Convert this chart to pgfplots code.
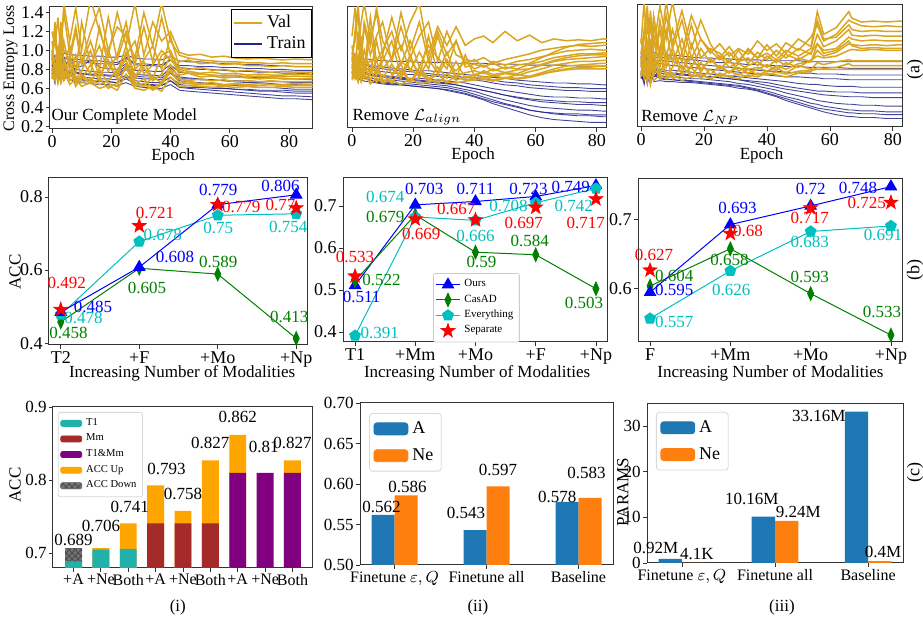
\documentclass[border=0pt]{standalone}
\usepackage{fontspec}
\setmainfont{Liberation Serif}
\usepackage{pgfplots}
\pgfplotsset{compat=1.18}
\usepackage{pgfplotstable}
\usetikzlibrary{patterns}

\definecolor{valc}{HTML}{DAA520}
\definecolor{trainc}{HTML}{23238A}
\definecolor{oursc}{HTML}{0000FF}
\definecolor{casc}{HTML}{008000}
\definecolor{evc}{HTML}{00BFBF}
\definecolor{sepc}{HTML}{FF0000}
\definecolor{tone}{HTML}{20B2AA}
\definecolor{mmc}{HTML}{A52A2A}
\definecolor{tmm}{HTML}{800080}
\definecolor{upc}{HTML}{FFA500}
\definecolor{ca}{HTML}{1F77B4}
\definecolor{cn}{HTML}{FF7F0E}

\newcommand\fs[1]{\fontsize{#1}{#1}\selectfont}

% filled five-point star
\pgfdeclareplotmark{fstar}{%
  \pgfpathmoveto{\pgfpointpolar{90}{\pgfplotmarksize}}%
  \pgfpathlineto{\pgfpointpolar{126}{0.4\pgfplotmarksize}}%
  \pgfpathlineto{\pgfpointpolar{162}{\pgfplotmarksize}}%
  \pgfpathlineto{\pgfpointpolar{198}{0.4\pgfplotmarksize}}%
  \pgfpathlineto{\pgfpointpolar{234}{\pgfplotmarksize}}%
  \pgfpathlineto{\pgfpointpolar{270}{0.4\pgfplotmarksize}}%
  \pgfpathlineto{\pgfpointpolar{306}{\pgfplotmarksize}}%
  \pgfpathlineto{\pgfpointpolar{342}{0.4\pgfplotmarksize}}%
  \pgfpathlineto{\pgfpointpolar{18}{\pgfplotmarksize}}%
  \pgfpathlineto{\pgfpointpolar{54}{0.4\pgfplotmarksize}}%
  \pgfpathclose
  \pgfusepathqfillstroke}

\newcommand\lab[4]{\node[text=#1, font=\fs{8.5}, inner sep=0pt] at (axis cs:#2,#3) {#4};}

\pgfplotsset{
  base/.style={scale only axis, anchor=south west, clip mode=individual,
    axis line style={black!80, line width=0.5pt},
    tick align=outside, major tick length=2pt, tick style={black!80, line width=0.4pt},
    xtick pos=bottom, ytick pos=left,
    every tick label/.append style={inner sep=1pt},
    /pgf/number format/assume math mode=true, legend cell align=left},
  loss/.style={base, ymin=0.17, ymax=1.46, xtick={0,20,40,60,80},
    tick label style={font=\fs{9}}, label style={font=\fs{8.5}}, xlabel={Epoch}},
  trainst/.style={trainc, line width=0.45pt, opacity=0.85, forget plot},
  valst/.style={valc, line width=0.75pt, forget plot},
  modal/.style={base, tick label style={font=\fs{9}}, label style={font=\fs{8.5}},
    xlabel={Increasing Number of Modalities},
    yticklabel style={/pgf/number format/.cd, fixed, fixed zerofill, precision=1}},
  ours/.style={oursc, line width=0.5pt, mark=triangle*, mark size=3.2pt},
  cas/.style={casc, line width=0.5pt, mark=diamond*, mark size=3.3pt, mark options={xscale=0.6}},
  ev/.style={evc, line width=0.5pt, mark=pentagon*, mark size=2.8pt},
  sep/.style={sepc, only marks, mark=fstar, mark size=3.6pt},
}

% loss curves: e = epoch, v = validation, t = training
\pgfplotstableread{
e v1 v2 v3 v4 v5 v6 v7 v8 t1 t2 t3 t4 t5 t6 t7 t8
0 1.20 0.95 0.78 1.10 0.85 0.70 1.00 0.75 1.00 0.95 0.90 0.85 0.80 0.78 0.75 0.72
1 1.05 1.15 0.90 0.80 1.25 0.75 0.85 0.68 0.85 0.80 0.95 0.70 0.90 0.65 0.85 0.80
2 1.35 0.85 1.00 0.95 0.80 0.90 0.72 0.80 0.98 0.96 0.80 0.92 0.75 0.88 0.70 0.76
3 0.95 1.30 0.82 1.20 0.90 0.70 0.95 0.66 0.90 0.85 0.97 0.80 0.95 0.72 0.90 0.68
4 1.50 1.00 1.10 0.85 0.75 0.85 0.70 0.78 0.97 0.92 0.85 0.90 0.78 0.85 0.72 0.75
6 1.10 0.90 0.80 1.05 0.95 0.68 0.88 0.64 0.96 0.90 0.88 0.84 0.95 0.76 0.80 0.70
8 1.45 1.20 0.75 0.80 0.70 0.72 0.66 0.70 0.95 0.88 0.84 0.80 0.76 0.72 0.70 0.66
10 1.00 0.85 1.30 0.90 0.78 0.66 0.74 0.62 0.95 0.88 0.83 0.79 0.75 0.72 0.69 0.66
13 1.55 1.10 0.85 0.75 1.00 0.70 0.68 0.66 0.94 0.87 0.90 0.78 0.74 0.71 0.68 0.65
16 1.20 0.80 1.05 1.25 0.72 0.64 0.80 0.60 0.94 0.86 0.82 0.77 0.74 0.70 0.68 0.64
19 0.95 1.35 0.78 0.85 0.90 0.68 0.65 0.63 0.93 0.86 0.81 0.77 0.73 0.70 0.67 0.64
22 1.40 0.90 0.95 0.72 0.70 0.80 0.62 0.58 0.93 0.85 0.80 0.76 0.72 0.69 0.66 0.63
25 1.05 1.20 1.30 0.95 0.98 0.90 0.85 0.75 0.95 0.92 0.86 0.84 0.80 0.74 0.70 0.66
28 1.50 0.85 0.80 1.10 0.70 0.66 0.64 0.60 0.92 0.85 0.79 0.75 0.71 0.68 0.65 0.62
31 0.95 1.25 0.90 0.75 0.82 0.62 0.70 0.58 0.91 0.84 0.79 0.74 0.70 0.67 0.64 0.61
34 1.30 0.88 1.05 0.85 0.68 0.72 0.60 0.62 0.91 0.84 0.78 0.74 0.70 0.66 0.63 0.60
37 1.10 1.35 0.80 1.00 0.75 0.66 0.66 0.57 0.90 0.83 0.78 0.73 0.69 0.66 0.63 0.60
40 1.20 0.95 1.15 0.90 0.95 0.85 0.80 0.72 0.94 0.90 0.85 0.82 0.76 0.72 0.68 0.64
43 0.98 0.88 0.82 0.80 0.74 0.70 0.66 0.62 0.89 0.82 0.77 0.72 0.68 0.64 0.61 0.58
46 0.95 0.90 0.80 0.78 0.76 0.68 0.67 0.63 0.88 0.81 0.76 0.71 0.67 0.63 0.60 0.57
50 0.96 0.86 0.82 0.76 0.72 0.70 0.65 0.62 0.88 0.80 0.75 0.70 0.66 0.62 0.59 0.56
54 0.93 0.87 0.79 0.77 0.73 0.68 0.66 0.61 0.87 0.80 0.74 0.69 0.65 0.61 0.58 0.55
58 0.94 0.85 0.80 0.75 0.71 0.69 0.64 0.62 0.86 0.79 0.73 0.68 0.64 0.60 0.57 0.54
62 0.92 0.86 0.78 0.76 0.72 0.67 0.65 0.61 0.86 0.78 0.73 0.67 0.63 0.59 0.56 0.53
66 0.91 0.84 0.79 0.74 0.71 0.68 0.64 0.62 0.85 0.78 0.72 0.66 0.62 0.58 0.55 0.52
70 0.92 0.84 0.78 0.75 0.70 0.67 0.65 0.61 0.85 0.77 0.71 0.66 0.61 0.57 0.54 0.51
74 0.91 0.83 0.77 0.74 0.71 0.68 0.64 0.61 0.84 0.77 0.71 0.65 0.61 0.57 0.53 0.50
78 0.90 0.84 0.78 0.74 0.70 0.67 0.64 0.62 0.84 0.76 0.70 0.64 0.60 0.56 0.52 0.49
82 0.91 0.83 0.77 0.75 0.70 0.67 0.65 0.61 0.83 0.76 0.70 0.64 0.59 0.55 0.52 0.49
88 0.90 0.83 0.77 0.74 0.70 0.67 0.64 0.61 0.83 0.75 0.69 0.63 0.59 0.55 0.51 0.48
}\lossA
\pgfplotstableread{
e v9 v10 v11 t9 t10 t11
0 0.90 0.80 0.70 0.92 0.82 0.76
1 1.30 0.70 0.85 0.75 0.92 0.70
2 0.85 1.05 0.65 0.96 0.72 0.85
3 1.10 0.75 0.78 0.78 0.88 0.66
4 1.40 0.90 0.68 0.93 0.80 0.80
6 0.95 0.72 0.80 0.90 0.78 0.74
8 1.25 0.95 0.62 0.91 0.77 0.70
10 0.88 0.70 0.72 0.90 0.76 0.69
13 1.20 0.85 0.65 0.89 0.75 0.68
16 1.45 0.68 0.70 0.89 0.75 0.67
19 1.00 1.00 0.60 0.88 0.74 0.67
22 1.25 0.75 0.66 0.87 0.74 0.66
25 1.15 1.05 0.82 0.93 0.82 0.72
28 0.92 0.72 0.62 0.86 0.73 0.65
31 1.40 0.88 0.65 0.86 0.72 0.64
34 1.05 0.70 0.58 0.85 0.72 0.64
37 1.50 0.95 0.64 0.85 0.71 0.63
40 1.10 1.00 0.78 0.90 0.78 0.68
43 0.95 0.78 0.66 0.84 0.70 0.62
46 0.92 0.76 0.65 0.84 0.70 0.61
50 0.90 0.75 0.64 0.83 0.69 0.61
54 0.89 0.74 0.64 0.83 0.69 0.60
58 0.88 0.73 0.63 0.82 0.68 0.60
62 0.88 0.74 0.64 0.82 0.68 0.59
66 0.87 0.72 0.63 0.81 0.68 0.59
70 0.87 0.73 0.63 0.81 0.67 0.58
74 0.86 0.72 0.64 0.80 0.67 0.58
78 0.87 0.72 0.63 0.80 0.67 0.58
82 0.86 0.73 0.63 0.79 0.66 0.57
88 0.86 0.72 0.63 0.79 0.66 0.57
}\lossAx

\pgfplotstableread{
e v1 v2 v3 v4 v5 v6 v7 v8 t1 t2 t3 t4 t5 t6 t7 t8
0 1.15 0.95 0.80 1.05 0.75 0.90 0.70 0.85 0.98 0.92 0.88 0.80 0.85 0.75 0.78 0.72
1 1.45 1.10 0.95 0.78 0.88 0.72 0.82 0.70 0.95 0.88 0.82 0.78 0.80 0.74 0.72 0.70
2 1.00 1.40 0.75 1.20 0.70 0.95 0.68 0.78 0.93 0.87 0.84 0.76 0.78 0.72 0.74 0.69
3 1.30 0.90 1.15 0.85 1.00 0.70 0.90 0.66 0.92 0.86 0.80 0.77 0.75 0.73 0.70 0.68
4 1.50 1.25 0.80 1.00 0.78 0.85 0.72 0.75 0.91 0.85 0.81 0.75 0.76 0.71 0.71 0.67
6 1.10 0.95 1.35 0.75 0.90 0.68 0.80 0.64 0.90 0.84 0.79 0.74 0.73 0.70 0.68 0.66
8 1.40 1.15 0.88 1.10 0.72 0.80 0.66 0.70 0.89 0.83 0.78 0.74 0.72 0.69 0.67 0.65
10 0.95 1.30 1.00 0.80 0.95 0.70 0.74 0.65 0.89 0.82 0.77 0.73 0.71 0.68 0.66 0.64
13 1.35 0.88 1.20 0.92 0.74 0.85 0.65 0.68 0.88 0.81 0.76 0.72 0.70 0.68 0.65 0.63
16 1.00 1.25 0.85 1.05 0.88 0.70 0.78 0.63 0.88 0.80 0.75 0.71 0.69 0.67 0.64 0.63
19 1.30 0.92 1.10 0.78 0.80 0.90 0.66 0.70 0.88 0.79 0.74 0.70 0.68 0.66 0.64 0.62
22 1.50 1.15 0.82 0.98 0.72 0.75 0.82 0.64 0.87 0.78 0.74 0.70 0.67 0.65 0.63 0.61
25 0.95 1.30 1.05 0.80 0.90 0.68 0.70 0.66 0.87 0.78 0.73 0.69 0.66 0.64 0.62 0.60
28 1.25 0.88 0.92 1.15 0.76 0.82 0.64 0.69 0.87 0.77 0.72 0.68 0.65 0.63 0.61 0.59
31 1.05 1.20 0.80 0.85 0.98 0.70 0.75 0.66 0.87 0.76 0.71 0.67 0.64 0.62 0.60 0.57
34 1.25 0.95 1.10 0.78 0.72 0.88 0.68 0.65 0.86 0.75 0.70 0.66 0.63 0.60 0.58 0.55
37 1.05 0.90 0.82 0.88 0.76 0.70 0.72 0.67 0.86 0.74 0.69 0.65 0.61 0.58 0.56 0.53
40 1.12 0.88 0.85 0.80 0.78 0.74 0.71 0.68 0.86 0.73 0.68 0.63 0.59 0.56 0.53 0.50
43 1.15 0.92 0.82 0.84 0.75 0.76 0.70 0.69 0.86 0.72 0.67 0.61 0.57 0.53 0.50 0.47
46 1.08 0.86 0.88 0.78 0.80 0.72 0.73 0.67 0.85 0.71 0.65 0.59 0.55 0.50 0.47 0.43
50 1.20 0.90 0.84 0.82 0.76 0.75 0.70 0.70 0.85 0.70 0.63 0.57 0.52 0.47 0.43 0.39
54 1.10 0.93 0.88 0.80 0.79 0.73 0.74 0.69 0.85 0.68 0.62 0.55 0.49 0.44 0.40 0.35
58 1.16 0.96 0.90 0.85 0.80 0.77 0.72 0.71 0.84 0.67 0.60 0.53 0.47 0.41 0.36 0.31
62 1.08 1.00 0.93 0.88 0.84 0.80 0.76 0.74 0.84 0.66 0.59 0.51 0.45 0.39 0.34 0.28
66 1.12 1.02 0.96 0.92 0.88 0.84 0.80 0.78 0.84 0.65 0.58 0.50 0.44 0.38 0.32 0.26
70 1.10 1.04 0.99 0.94 0.90 0.86 0.83 0.80 0.84 0.65 0.57 0.50 0.43 0.37 0.31 0.25
74 1.11 1.05 1.00 0.96 0.91 0.88 0.84 0.82 0.83 0.64 0.57 0.49 0.42 0.36 0.30 0.24
78 1.10 1.04 1.01 0.96 0.92 0.88 0.85 0.82 0.83 0.64 0.56 0.49 0.42 0.36 0.30 0.23
82 1.12 1.05 1.00 0.97 0.93 0.89 0.86 0.83 0.83 0.63 0.56 0.48 0.41 0.35 0.29 0.23
85 1.11 1.05 1.01 0.97 0.93 0.89 0.86 0.83 0.83 0.63 0.56 0.48 0.41 0.35 0.29 0.22
}\lossB
\pgfplotstableread{
e v9 v10 v11 t9 t10 t11
0 0.90 0.75 0.68 0.90 0.82 0.74
1 1.20 0.90 0.75 0.86 0.78 0.70
2 1.50 0.70 0.66 0.88 0.80 0.72
3 0.95 1.05 0.80 0.84 0.76 0.69
4 1.30 0.72 0.70 0.85 0.77 0.70
6 1.05 1.20 0.74 0.82 0.74 0.68
8 1.45 0.75 0.90 0.81 0.73 0.66
10 1.10 0.88 0.66 0.80 0.72 0.65
13 0.90 1.10 0.72 0.79 0.71 0.64
16 1.40 0.72 0.85 0.78 0.70 0.63
19 1.00 0.95 0.65 0.77 0.69 0.62
22 1.30 0.70 0.78 0.76 0.68 0.61
25 0.88 1.15 0.68 0.75 0.67 0.60
28 1.20 0.74 0.74 0.74 0.66 0.59
31 0.95 0.90 0.66 0.73 0.65 0.58
34 1.10 0.70 0.72 0.72 0.63 0.56
37 0.85 0.95 0.68 0.71 0.61 0.54
40 0.90 0.72 0.70 0.70 0.59 0.51
43 0.82 0.78 0.72 0.69 0.57 0.48
46 0.86 0.74 0.68 0.68 0.55 0.45
50 0.80 0.76 0.71 0.66 0.52 0.42
54 0.84 0.75 0.70 0.65 0.50 0.39
58 0.86 0.80 0.72 0.63 0.48 0.36
62 0.92 0.85 0.75 0.62 0.47 0.34
66 0.98 0.89 0.77 0.61 0.46 0.33
70 1.03 0.92 0.79 0.60 0.45 0.32
74 1.06 0.94 0.80 0.60 0.45 0.32
78 1.07 0.95 0.80 0.59 0.44 0.31
82 1.08 0.95 0.80 0.59 0.44 0.31
85 1.08 0.95 0.80 0.59 0.44 0.31
}\lossBx

\pgfplotstableread{
e v1 v2 v3 v4 v5 v6 v7 v8 t1 t2 t3 t4 t5 t6 t7 t8
0 1.05 0.95 1.10 0.80 0.85 0.70 0.90 0.75 0.95 0.90 0.85 0.80 0.75 0.72 0.70 0.68
1 1.50 1.20 0.85 1.00 0.75 0.90 0.68 0.80 0.70 0.95 0.65 0.90 0.62 0.85 0.66 0.80
2 0.90 1.45 1.25 0.78 1.05 0.65 0.85 0.70 0.98 0.75 0.92 0.68 0.88 0.64 0.82 0.62
3 1.40 0.85 1.00 1.30 0.70 0.95 0.62 0.88 0.72 0.93 0.70 0.86 0.66 0.80 0.63 0.76
4 1.00 1.35 0.80 0.90 1.15 0.72 0.80 0.66 0.96 0.80 0.88 0.75 0.82 0.70 0.74 0.65
6 1.45 0.95 1.30 0.80 0.75 1.00 0.70 0.72 0.94 0.88 0.84 0.78 0.74 0.71 0.68 0.66
8 1.10 1.50 0.90 1.20 0.85 0.70 0.95 0.68 0.93 0.87 0.83 0.77 0.73 0.70 0.67 0.65
10 1.50 1.05 1.20 0.85 1.00 0.80 0.68 0.74 0.93 0.86 0.82 0.77 0.73 0.70 0.67 0.65
13 0.95 1.40 0.85 1.10 0.78 0.95 0.72 0.66 0.92 0.85 0.81 0.76 0.72 0.69 0.66 0.64
16 1.35 1.00 1.25 0.80 0.92 0.70 0.80 0.70 0.91 0.84 0.80 0.75 0.71 0.68 0.66 0.64
19 1.10 1.30 0.90 1.00 0.75 0.85 0.68 0.72 0.90 0.83 0.79 0.74 0.71 0.68 0.65 0.63
22 0.95 1.05 1.00 0.85 0.90 0.72 0.78 0.68 0.90 0.82 0.78 0.73 0.70 0.67 0.64 0.62
25 1.05 0.90 0.95 0.92 0.78 0.82 0.70 0.74 0.89 0.81 0.77 0.72 0.69 0.66 0.63 0.61
28 0.92 1.02 0.85 0.80 0.88 0.75 0.76 0.70 0.89 0.80 0.76 0.71 0.68 0.65 0.62 0.60
31 1.00 0.88 0.98 0.86 0.76 0.80 0.72 0.73 0.88 0.79 0.75 0.70 0.67 0.63 0.61 0.58
34 0.94 0.98 0.84 0.90 0.82 0.74 0.78 0.70 0.88 0.78 0.74 0.69 0.65 0.62 0.59 0.57
37 1.08 0.90 0.96 0.82 0.86 0.78 0.72 0.74 0.88 0.77 0.73 0.68 0.63 0.60 0.57 0.55
40 0.98 1.04 0.88 0.92 0.80 0.83 0.76 0.72 0.87 0.76 0.72 0.67 0.61 0.58 0.55 0.52
43 1.05 0.92 0.98 0.85 0.88 0.77 0.80 0.75 0.87 0.76 0.71 0.66 0.59 0.56 0.52 0.49
46 0.95 1.06 0.90 0.94 0.82 0.85 0.74 0.73 0.87 0.75 0.70 0.65 0.57 0.53 0.49 0.45
50 1.10 0.98 1.00 0.88 0.90 0.80 0.82 0.76 0.87 0.74 0.70 0.63 0.55 0.50 0.46 0.41
54 1.02 1.12 0.94 0.96 0.86 0.88 0.78 0.77 0.86 0.74 0.69 0.62 0.53 0.47 0.42 0.37
56 1.39 1.25 1.15 1.05 0.98 0.92 0.85 0.78 0.86 0.73 0.69 0.62 0.52 0.45 0.41 0.35
58 1.15 1.08 1.02 0.98 0.92 0.90 0.83 0.78 0.86 0.73 0.68 0.61 0.51 0.44 0.39 0.33
62 1.22 1.15 1.08 1.00 0.96 0.92 0.86 0.78 0.86 0.73 0.68 0.60 0.50 0.42 0.37 0.30
66 1.39 1.30 1.20 1.12 1.05 0.98 0.88 0.78 0.86 0.72 0.67 0.60 0.49 0.41 0.35 0.28
67 1.32 1.28 1.14 1.10 1.04 0.99 0.87 0.78 0.86 0.72 0.67 0.60 0.49 0.41 0.35 0.28
70 1.28 1.24 1.13 1.08 1.03 0.98 0.87 0.78 0.86 0.72 0.67 0.59 0.49 0.40 0.34 0.27
74 1.29 1.23 1.14 1.09 1.04 0.99 0.87 0.78 0.86 0.72 0.67 0.59 0.48 0.40 0.34 0.27
78 1.28 1.24 1.13 1.08 1.03 0.98 0.87 0.78 0.86 0.72 0.67 0.59 0.48 0.39 0.33 0.26
82 1.29 1.23 1.13 1.08 1.04 0.98 0.87 0.78 0.86 0.72 0.67 0.59 0.48 0.39 0.33 0.26
85 1.28 1.23 1.13 1.08 1.03 0.98 0.87 0.78 0.86 0.72 0.67 0.59 0.48 0.39 0.33 0.26
}\lossC
\pgfplotstableread{
e v9 v10 v11 t9 t10 t11
0 0.85 0.75 0.70 0.92 0.82 0.74
1 1.10 0.85 0.78 0.68 0.90 0.64
2 1.40 0.70 0.66 0.96 0.66 0.85
3 0.95 1.10 0.74 0.70 0.88 0.62
4 1.25 0.78 0.95 0.90 0.70 0.78
6 0.90 1.20 0.68 0.91 0.76 0.69
8 1.35 0.80 0.75 0.90 0.75 0.68
10 1.00 0.95 0.70 0.90 0.74 0.67
13 1.30 0.72 0.82 0.89 0.73 0.66
16 0.90 1.05 0.70 0.88 0.72 0.65
19 1.10 0.78 0.74 0.87 0.71 0.64
22 0.98 0.88 0.68 0.86 0.70 0.63
25 0.88 0.80 0.72 0.85 0.69 0.62
28 0.96 0.74 0.70 0.85 0.68 0.61
31 0.85 0.84 0.68 0.84 0.67 0.60
34 1.00 0.78 0.72 0.83 0.66 0.58
37 0.90 0.80 0.70 0.83 0.65 0.56
40 0.95 0.76 0.74 0.82 0.64 0.53
43 0.88 0.82 0.72 0.82 0.62 0.50
46 0.98 0.78 0.70 0.81 0.60 0.47
50 0.92 0.84 0.74 0.81 0.58 0.43
54 1.00 0.86 0.76 0.80 0.56 0.39
56 1.30 1.05 0.80 0.80 0.55 0.37
58 1.10 0.95 0.79 0.80 0.55 0.36
62 1.12 0.98 0.80 0.80 0.54 0.34
66 1.25 1.08 0.84 0.79 0.54 0.32
67 1.20 1.03 0.82 0.79 0.54 0.32
70 1.18 1.00 0.82 0.79 0.53 0.31
74 1.19 1.01 0.82 0.79 0.53 0.31
78 1.18 1.00 0.82 0.79 0.53 0.30
82 1.18 1.00 0.82 0.79 0.53 0.30
85 1.18 1.00 0.82 0.79 0.53 0.30
}\lossCx

\begin{document}
\begin{tikzpicture}
\useasboundingbox (0pt,0pt) rectangle (461.5pt,-309.5pt);

% ---------------- row (a) ----------------
\begin{axis}[loss, at={(25pt,-64.5pt)}, width=131.5pt, height=61pt,
  xmin=-0.68, xmax=88.1,
  ytick={0.2,0.4,0.6,0.8,1.0,1.2,1.4},
  yticklabel style={/pgf/number format/.cd, fixed, fixed zerofill, precision=1},
  ylabel={Cross Entropy Loss},
  xlabel style={at={(rel axis cs:0.468,-0.225)}, anchor=center},
  ylabel style={at={(rel axis cs:-0.15,0.5)}, anchor=center, font=\fs{8}},
  legend style={at={(rel axis cs:0.996,0.984)}, anchor=north east, font=\fs{9},
    draw=black, inner sep=1pt, row sep=-1pt},
  legend image code/.code={\draw[#1] (0pt,0pt) -- (14pt,0pt);}]
\pgfplotsinvokeforeach{1,...,8}{\addplot[trainst] table[x=e, y=t#1] {\lossA};}
\pgfplotsinvokeforeach{9,10,11}{\addplot[trainst] table[x=e, y=t#1] {\lossAx};}
\pgfplotsinvokeforeach{1,...,8}{\addplot[valst] table[x=e, y=v#1] {\lossA};}
\pgfplotsinvokeforeach{9,10,11}{\addplot[valst] table[x=e, y=v#1] {\lossAx};}
\addlegendimage{valc, line width=1pt}\addlegendentry{Val}
\addlegendimage{trainc, line width=1pt}\addlegendentry{Train}
\node[anchor=west, font=\fs{8.5}, inner sep=0pt] at (rel axis cs:0.005,0.1) {Our Complete Model};
\end{axis}

\begin{axis}[loss, at={(173.5pt,-64pt)}, width=130pt, height=60.5pt,
  xmin=-1.63, xmax=83.3, ytick=\empty,
  xlabel style={at={(rel axis cs:0.485,-0.23)}, anchor=center}]
\pgfplotsinvokeforeach{1,...,8}{\addplot[trainst] table[x=e, y=t#1] {\lossB};}
\pgfplotsinvokeforeach{9,10,11}{\addplot[trainst] table[x=e, y=t#1] {\lossBx};}
\pgfplotsinvokeforeach{1,...,8}{\addplot[valst] table[x=e, y=v#1] {\lossB};}
\pgfplotsinvokeforeach{9,10,11}{\addplot[valst] table[x=e, y=v#1] {\lossBx};}
\node[anchor=west, font=\fs{8.5}, inner sep=0pt] at (rel axis cs:0.02,0.09) {Remove $\mathcal{L}_{align}$};
\end{axis}

\begin{axis}[loss, at={(318.5pt,-63.5pt)}, width=132.5pt, height=61pt,
  xmin=-1.27, xmax=82.9, ytick=\empty,
  xlabel style={at={(rel axis cs:0.47,-0.235)}, anchor=center}]
\pgfplotsinvokeforeach{1,...,8}{\addplot[trainst] table[x=e, y=t#1] {\lossC};}
\pgfplotsinvokeforeach{9,10,11}{\addplot[trainst] table[x=e, y=t#1] {\lossCx};}
\pgfplotsinvokeforeach{1,...,8}{\addplot[valst] table[x=e, y=v#1] {\lossC};}
\pgfplotsinvokeforeach{9,10,11}{\addplot[valst] table[x=e, y=v#1] {\lossCx};}
\node[anchor=west, font=\fs{8.5}, inner sep=0pt] at (rel axis cs:0.015,0.08) {Remove $\mathcal{L}_{NP}$};
\end{axis}

% ---------------- row (b) ----------------
\begin{axis}[modal, at={(24.5pt,-172.5pt)}, width=129.5pt, height=83.5pt,
  xmin=-0.15, xmax=3.15, ymin=0.395, ymax=0.852,
  xtick={0,1,2,3}, xticklabels={T2,+F,+Mo,+Np}, ytick={0.4,0.6,0.8},
  ylabel={ACC},
  xlabel style={at={(rel axis cs:0.514,-0.17)}, anchor=center},
  ylabel style={at={(rel axis cs:-0.131,0.437)}, anchor=center}]
\addplot[cas] coordinates {(0,0.458) (1,0.605) (2,0.589) (3,0.413)};
\addplot[ev] coordinates {(0,0.478) (1,0.678) (2,0.750) (3,0.754)};
\addplot[ours] coordinates {(0,0.485) (1,0.608) (2,0.779) (3,0.806)};
\addplot[sep] coordinates {(0,0.492) (1,0.721) (2,0.779) (3,0.770)};
\lab{sepc}{0.077}{0.564}{0.492}
\lab{oursc}{0.41}{0.499}{0.485}
\lab{evc}{0.29}{0.468}{0.478}
\lab{casc}{0.10}{0.427}{0.458}
\lab{sepc}{1.20}{0.756}{0.721}
\lab{evc}{1.30}{0.696}{0.678}
\lab{oursc}{1.456}{0.636}{0.608}
\lab{casc}{1.10}{0.551}{0.605}
\lab{oursc}{2.005}{0.819}{0.779}
\lab{sepc}{2.30}{0.773}{0.779}
\lab{evc}{2.005}{0.715}{0.75}
\lab{casc}{2.005}{0.622}{0.589}
\lab{oursc}{2.80}{0.830}{0.806}
\lab{sepc}{2.80}{0.778}{0.77}
\lab{evc}{2.90}{0.718}{0.754}
\lab{casc}{2.91}{0.471}{0.413}
\end{axis}

\begin{axis}[modal, at={(171.5pt,-171pt)}, width=132.5pt, height=82pt,
  xmin=-0.2, xmax=4.2, ymin=0.376, ymax=0.767,
  xtick={0,1,2,3,4}, xticklabels={T1,+Mm,+Mo,+F,+Np}, ytick={0.4,0.5,0.6,0.7},
  xlabel style={at={(rel axis cs:0.506,-0.19)}, anchor=center},
  legend style={at={(rel axis cs:0.34,0.42)}, anchor=north west, font=\fs{5.5},
    draw=black!20, rounded corners=1pt, inner sep=1pt, row sep=-1.5pt},
  legend image code/.code={\draw[mark repeat=2, mark phase=2, #1] plot coordinates {(0pt,0pt) (6pt,0pt) (12pt,0pt)};}]
\addplot[ours] coordinates {(0,0.511) (1,0.703) (2,0.711) (3,0.723) (4,0.749)};
\addlegendentry{Ours}
\addplot[cas] coordinates {(0,0.522) (1,0.679) (2,0.590) (3,0.584) (4,0.503)};
\addlegendentry{CasAD}
\addplot[ev] coordinates {(0,0.391) (1,0.674) (2,0.666) (3,0.708) (4,0.742)};
\addlegendentry{Everything}
\addplot[sep] coordinates {(0,0.533) (1,0.669) (2,0.667) (3,0.697) (4,0.717)};
\addlegendentry{Separate}
\lab{sepc}{0}{0.578}{0.533}
\lab{casc}{0.44}{0.525}{0.522}
\lab{oursc}{0.11}{0.484}{0.511}
\lab{evc}{0.41}{0.398}{0.391}
\lab{evc}{0.5}{0.722}{0.674}
\lab{oursc}{1.15}{0.741}{0.703}
\lab{casc}{0.5}{0.674}{0.679}
\lab{sepc}{1.1}{0.633}{0.669}
\lab{oursc}{2.0}{0.741}{0.711}
\lab{sepc}{1.68}{0.693}{0.667}
\lab{evc}{2.0}{0.628}{0.666}
\lab{casc}{2.1}{0.566}{0.59}
\lab{oursc}{2.88}{0.741}{0.723}
\lab{evc}{2.55}{0.700}{0.708}
\lab{sepc}{2.8}{0.659}{0.697}
\lab{casc}{2.9}{0.616}{0.584}
\lab{oursc}{3.58}{0.746}{0.749}
\lab{evc}{3.63}{0.700}{0.742}
\lab{sepc}{3.83}{0.659}{0.717}
\lab{casc}{3.8}{0.470}{0.503}
\end{axis}

\begin{axis}[modal, at={(319pt,-171pt)}, width=132.5pt, height=81.5pt,
  xmin=-0.15, xmax=3.15, ymin=0.523, ymax=0.759,
  xtick={0,1,2,3}, xticklabels={F,+Mm,+Mo,+Np}, ytick={0.6,0.7},
  xlabel style={at={(rel axis cs:0.50,-0.19)}, anchor=center}]
\addplot[ev] coordinates {(0,0.557) (1,0.626) (2,0.683) (3,0.691)};
\addplot[cas] coordinates {(0,0.604) (1,0.658) (2,0.593) (3,0.533)};
\addplot[ours] coordinates {(0,0.595) (1,0.693) (2,0.720) (3,0.748)};
\addplot[sep] coordinates {(0,0.627) (1,0.680) (2,0.717) (3,0.725)};
\lab{sepc}{0.05}{0.649}{0.627}
\lab{casc}{0.3}{0.619}{0.604}
\lab{oursc}{0.3}{0.599}{0.595}
\lab{evc}{0.3}{0.552}{0.557}
\lab{oursc}{1.09}{0.717}{0.693}
\lab{sepc}{1.22}{0.684}{0.68}
\lab{casc}{0.99}{0.642}{0.658}
\lab{evc}{1.01}{0.599}{0.626}
\lab{oursc}{2.0}{0.745}{0.72}
\lab{sepc}{1.99}{0.703}{0.717}
\lab{evc}{1.99}{0.668}{0.683}
\lab{casc}{1.99}{0.617}{0.593}
\lab{oursc}{2.59}{0.746}{0.748}
\lab{sepc}{2.7}{0.725}{0.725}
\lab{evc}{2.9}{0.678}{0.691}
\lab{casc}{2.89}{0.567}{0.533}
\end{axis}

% ---------------- row (c) ----------------
\begin{axis}[base, at={(26.5pt,-284pt)}, width=130pt, height=80.5pt,
  xmin=-0.75, xmax=8.75, ymin=0.68, ymax=0.9,
  xtick={0,1,2,3,4,5,6,7,8},
  xticklabels={+A,+Ne,Both,+A,+Ne,Both,+A,+Ne,Both},
  ytick={0.7,0.8,0.9},
  yticklabel style={/pgf/number format/.cd, fixed, fixed zerofill, precision=1},
  tick label style={font=\fs{8.5}}, x tick label style={font=\fs{8}},
  label style={font=\fs{8.5}},
  ylabel={ACC}, xlabel={(i)},
  ylabel style={at={(rel axis cs:-0.146,0.516)}, anchor=center},
  xlabel style={at={(rel axis cs:0.48,-0.242)}, anchor=center},
  legend style={at={(rel axis cs:0.019,0.969)}, anchor=north west, font=\fs{5.3},
    draw=black!15, rounded corners=1pt, inner sep=1pt, row sep=-1.2pt}]
\addplot[ybar, bar width=0.62, bar shift=0, fill=upc, draw=none, forget plot]
  coordinates {(1,0.707) (2,0.741) (3,0.793) (4,0.758) (5,0.827) (6,0.862) (8,0.827)};
\addplot[ybar, bar width=0.62, bar shift=0, fill=black!55, draw=none, forget plot,
  postaction={pattern=crosshatch, pattern color=black!70}]
  coordinates {(0,0.707)};
\addplot[ybar, bar width=0.62, bar shift=0, fill=tone, draw=none, forget plot]
  coordinates {(0,0.689) (1,0.705) (2,0.706)};
\addplot[ybar, bar width=0.62, bar shift=0, fill=mmc, draw=none, forget plot]
  coordinates {(3,0.741) (4,0.741) (5,0.741)};
\addplot[ybar, bar width=0.62, bar shift=0, fill=tmm, draw=none, forget plot]
  coordinates {(6,0.81) (7,0.81) (8,0.81)};
\addlegendimage{legend image code/.code={\fill[tone] (0pt,-1.5pt) rectangle (10.5pt,1.5pt);}}
\addlegendentry{T1}
\addlegendimage{legend image code/.code={\fill[mmc] (0pt,-1.5pt) rectangle (10.5pt,1.5pt);}}
\addlegendentry{Mm}
\addlegendimage{legend image code/.code={\fill[tmm] (0pt,-1.5pt) rectangle (10.5pt,1.5pt);}}
\addlegendentry{T1\&Mm}
\addlegendimage{legend image code/.code={\fill[upc] (0pt,-1.5pt) rectangle (10.5pt,1.5pt);}}
\addlegendentry{ACC Up}
\addlegendimage{legend image code/.code={\fill[black!55, postaction={pattern=crosshatch, pattern color=black!70}] (0pt,-1.5pt) rectangle (10.5pt,1.5pt);}}
\addlegendentry{ACC Down}
\lab{black}{0}{0.718}{0.689}
\lab{black}{1.0}{0.737}{0.706}
\lab{black}{2.05}{0.763}{0.741}
\lab{black}{3.4}{0.816}{0.793}
\lab{black}{4.0}{0.781}{0.758}
\lab{black}{5.0}{0.851}{0.827}
\lab{black}{6.0}{0.886}{0.862}
\lab{black}{6.95}{0.845}{0.81}
\lab{black}{8.0}{0.851}{0.827}
\end{axis}

\begin{axis}[base, at={(180pt,-282.5pt)}, width=126.5pt, height=81pt,
  xmin=-0.375, xmax=2.375, ymin=0.5, ymax=0.7,
  xtick={0,1,2}, xticklabels={{Finetune $\varepsilon,Q$},{Finetune all},{Baseline}},
  ytick={0.50,0.55,0.60,0.65,0.70},
  yticklabel style={/pgf/number format/.cd, fixed, fixed zerofill, precision=2},
  tick label style={font=\fs{8.5}}, x tick label style={font=\fs{8}},
  label style={font=\fs{8.5}}, xlabel={(ii)},
  xlabel style={at={(rel axis cs:0.466,-0.259)}, anchor=center},
  legend style={at={(rel axis cs:0.036,0.938)}, anchor=north west, font=\fs{9},
    draw=black!15, rounded corners=1.5pt, inner sep=2pt, row sep=2pt}]
\addplot[ybar, bar width=0.25, bar shift=0, fill=ca, draw=none, forget plot]
  coordinates {(-0.125,0.562) (0.875,0.543) (1.875,0.578)};
\addplot[ybar, bar width=0.25, bar shift=0, fill=cn, draw=none, forget plot]
  coordinates {(0.125,0.586) (1.125,0.597) (2.125,0.583)};
\addlegendimage{legend image code/.code={\fill[ca] (0pt,-3pt) rectangle (17pt,3pt);}}
\addlegendentry{A}
\addlegendimage{legend image code/.code={\fill[cn] (0pt,-3pt) rectangle (17pt,3pt);}}
\addlegendentry{Ne}
\lab{black}{-0.14}{0.572}{0.562}
\lab{black}{0.14}{0.596}{0.586}
\lab{black}{0.776}{0.564}{0.543}
\lab{black}{1.126}{0.617}{0.597}
\lab{black}{1.77}{0.584}{0.578}
\lab{black}{2.087}{0.614}{0.583}
\end{axis}

\begin{axis}[base, at={(323.5pt,-281.5pt)}, width=128pt, height=79.5pt,
  xmin=-0.375, xmax=2.375, ymin=0, ymax=34.82,
  xtick={0,1,2}, xticklabels={{Finetune $\varepsilon,Q$},{Finetune all},{Baseline}},
  ytick={0,10,20,30},
  tick label style={font=\fs{8.5}}, x tick label style={font=\fs{8}},
  label style={font=\fs{8.5}}, xlabel={(iii)}, ylabel={PARAMS},
  xlabel style={at={(rel axis cs:0.527,-0.277)}, anchor=center},
  ylabel style={at={(rel axis cs:-0.094,0.447)}, anchor=center},
  legend style={at={(rel axis cs:0.035,0.95)}, anchor=north west, font=\fs{9},
    draw=black!15, rounded corners=1.5pt, inner sep=2pt, row sep=2pt}]
\addplot[ybar, bar width=0.25, bar shift=0, fill=ca, draw=none, forget plot]
  coordinates {(-0.125,0.92) (0.875,10.16) (1.875,33.16)};
\addplot[ybar, bar width=0.25, bar shift=0, fill=cn, draw=none, forget plot]
  coordinates {(0.125,0.0041) (1.125,9.24) (2.125,0.4)};
\addlegendimage{legend image code/.code={\fill[ca] (0pt,-3pt) rectangle (17pt,3pt);}}
\addlegendentry{A}
\addlegendimage{legend image code/.code={\fill[cn] (0pt,-3pt) rectangle (17pt,3pt);}}
\addlegendentry{Ne}
\lab{black}{-0.28}{3.3}{0.92M}
\lab{black}{0.16}{2.0}{4.1K}
\lab{black}{0.75}{14.0}{10.16M}
\lab{black}{1.25}{11.1}{9.24M}
\lab{black}{1.47}{32.2}{33.16M}
\lab{black}{2.16}{2.4}{0.4M}
\end{axis}

\node[rotate=90, font=\fs{9}] at (457.5pt,-35pt) {(a)};
\node[rotate=90, font=\fs{9}] at (457.5pt,-135pt) {(b)};
\node[rotate=90, font=\fs{9}] at (457.5pt,-236.5pt) {(c)};
\end{tikzpicture}
\end{document}
